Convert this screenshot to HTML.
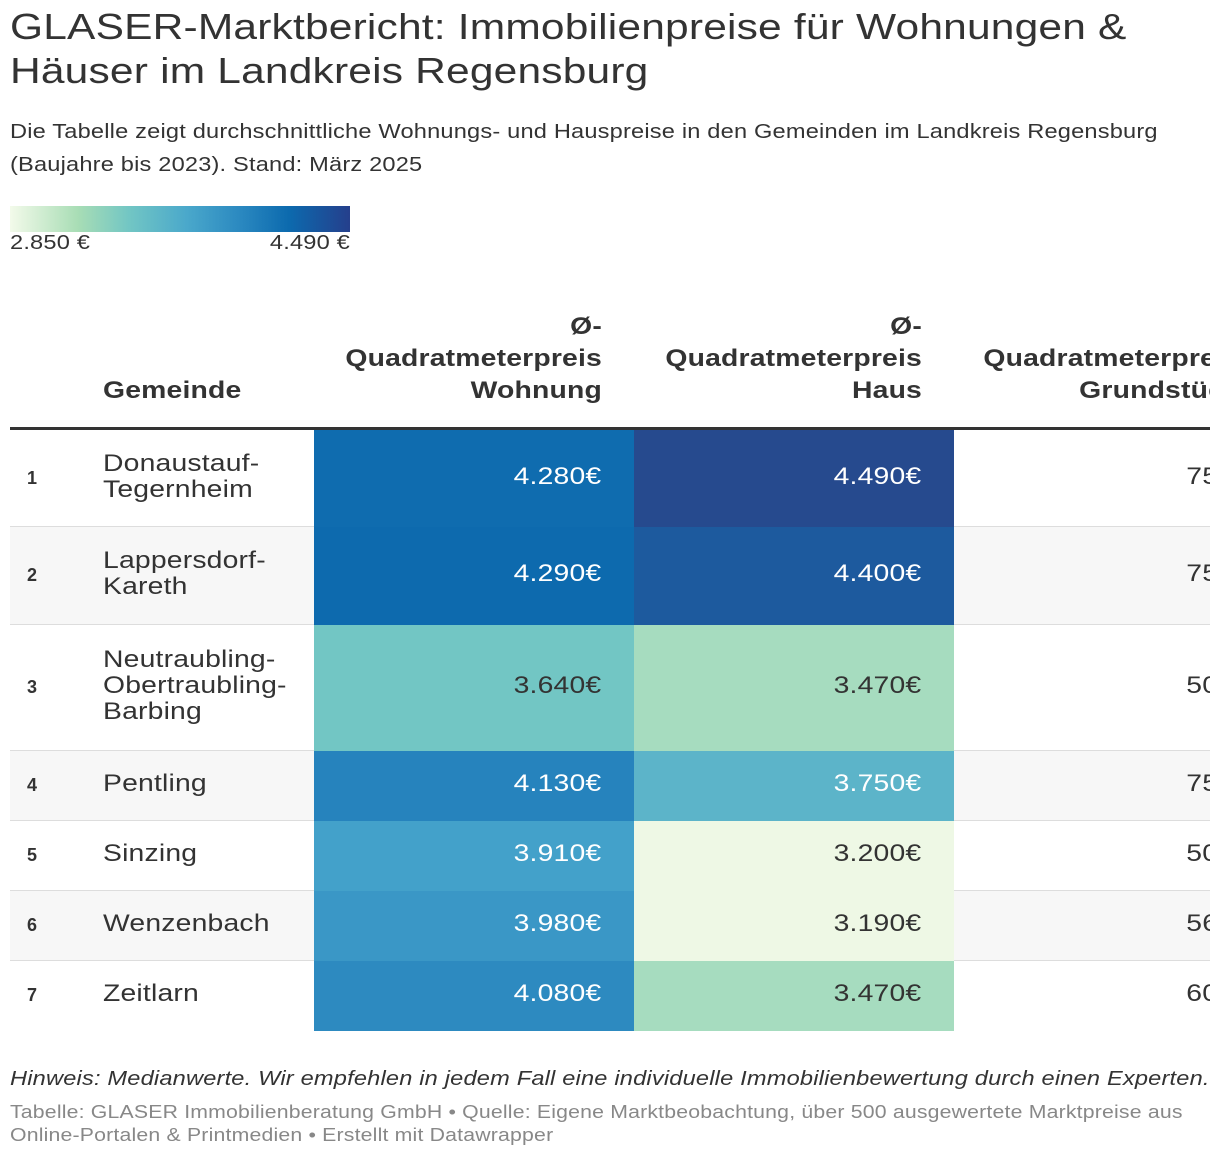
<!DOCTYPE html>
<html><head><meta charset="utf-8">
<style>
*{margin:0;padding:0;box-sizing:border-box}
body{width:1220px;height:1160px;overflow:hidden;background:#fff;font-family:"Liberation Sans",Arial,sans-serif;color:#333;position:relative;letter-spacing:0.01em}
.abs{position:absolute}
.sx{transform:scaleX(1.18);transform-origin:left top}
.sxr{transform:scaleX(1.18);transform-origin:right top}
h1{position:absolute;left:10px;top:5px;font-size:36px;font-weight:400;line-height:44px;color:#333;width:1010px}
.sub{left:10px;top:116px;font-size:20px;line-height:33px;color:#333;width:1000px}
#wrap{position:absolute;left:0;top:290px;width:1210px;height:760px;overflow:hidden}
.hd{position:absolute;font-size:24px;font-weight:700;line-height:32px;color:#333}
.row{position:absolute;left:10px;width:1300px;border-bottom:1px solid #ddd}
.rank{position:absolute;left:17px;font-size:18px;font-weight:700}
.name{position:absolute;left:93px;font-size:24px;line-height:26px}
.cell{position:absolute;top:0;width:320px;text-align:right;padding-right:33px;font-size:24px}
.cell span,.c3 span{display:inline-block;transform:scaleX(1.18);transform-origin:right center}
.c3{position:absolute;top:0;width:300px;left:940px;text-align:right;font-size:24px}
</style></head><body>
<h1 class="sx">GLASER-Marktbericht: Immobilienpreise für Wohnungen &amp; Häuser im Landkreis Regensburg</h1>
<div class="abs sub sx">Die Tabelle zeigt durchschnittliche Wohnungs- und Hauspreise in den Gemeinden im Landkreis Regensburg (Baujahre bis 2023). Stand: März 2025</div>
<div class="abs" style="left:10px;top:206px;width:340px;height:26px;background:linear-gradient(to right,#f3faea 0%,#a8ddb5 20%,#72c6c4 35%,#4aa8cb 52%,#2a88c0 68%,#0c6aae 82%,#253f8c 100%)"></div>
<div class="abs sx" style="left:10px;top:232px;font-size:20px">2.850 €</div>
<div class="abs sxr" style="left:200px;width:150px;text-align:right;top:232px;font-size:20px">4.490 €</div>
<div id="wrap">
  <div class="hd sx" style="left:103px;top:85px">Gemeinde</div>
  <div class="hd sxr" style="left:300px;width:302px;text-align:right;top:21px">Ø-<br>Quadratmeterpreis<br>Wohnung</div>
  <div class="hd sxr" style="left:620px;width:302px;text-align:right;top:21px">Ø-<br>Quadratmeterpreis<br>Haus</div>
  <div class="hd sxr" style="left:940px;width:300px;text-align:right;top:53px;white-space:nowrap">Quadratmeterpreis<br>Grundstück</div>
  <div class="abs" style="left:10px;top:137px;width:1300px;height:3px;background:#333"></div>
  <div id="rows"></div>
</div>
<div class="abs sx" style="left:10px;top:1068px;font-size:20px;font-style:italic;white-space:nowrap">Hinweis: Medianwerte. Wir empfehlen in jedem Fall eine individuelle Immobilienbewertung durch einen Experten.</div>
<div class="abs sx" style="left:10px;top:1101px;font-size:18px;line-height:23px;color:#888;width:1020px">Tabelle: GLASER Immobilienberatung GmbH • Quelle: Eigene Marktbeobachtung, über 500 ausgewertete Marktpreise aus Online-Portalen &amp; Printmedien • Erstellt mit Datawrapper</div>
<script>
const gemeinden=["Donaustauf-<br>Tegernheim","Lappersdorf-<br>Kareth","Neutraubling-<br>Obertraubling-<br>Barbing","Pentling","Sinzing","Wenzenbach","Zeitlarn"];
const wohnung=[4280,4290,3640,4130,3910,3980,4080];
const haus=[4490,4400,3470,3750,3200,3190,3470];
const grund=[750,750,500,750,500,560,600];
const rowHeights=[97,98,126,70,70,70,69];
const stops=[[2850,[247,252,240]],[3200,[238,248,229]],[3470,[166,220,191]],[3640,[114,198,196]],[3750,[92,180,201]],[3910,[67,161,202]],[4130,[38,131,189]],[4290,[13,106,174]],[4400,[29,90,158]],[4490,[38,74,142]]];
function color(v){
  if(v<=stops[0][0])return stops[0][1];
  for(let i=1;i<stops.length;i++){if(v<=stops[i][0]){const a=stops[i-1],b=stops[i],t=(v-a[0])/(b[0]-a[0]);return a[1].map((c,k)=>Math.round(c+(b[1][k]-c)*t));}}
  return stops[stops.length-1][1];
}
function fmt(v){return String(v).replace(/(\d)(\d{3})$/,'$1.$2');}
const rows=document.getElementById('rows');
let y=140;
gemeinden.forEach((g,i)=>{
  const h=rowHeights[i];
  const r=document.createElement('div');
  r.className='row';
  
  
  r.style.top=y+'px';r.style.height=h+'px';
  if(i%2===1)r.style.background='#f7f7f7';
  const lines=g.split('<br>').length;
  const nameTop=(h-lines*26)/2-2;
  const mid=h/2;
  const rk=document.createElement('div');rk.className='rank';rk.textContent=i+1;rk.style.top=(mid-11)+'px';
  
  
  const nm=document.createElement('div');nm.className='name sx';nm.innerHTML=g;nm.style.top=nameTop+'px';
  
  
  r.appendChild(rk);r.appendChild(nm);
  [[wohnung[i],304],[haus[i],624]].forEach(([v,x],k)=>{
    const c=document.createElement('div');c.className='cell';
    
    
    const col=color(v);
    c.style.left=x+'px';c.style.height=(i===gemeinden.length-1?h+1:h)+'px';c.style.background='rgb('+col.join(',')+')';
    c.style.lineHeight=(h-4)+'px';c.style.color=v>=3700?'#fff':'#333';
    const s=document.createElement('span');s.textContent=fmt(v)+'€';
    c.appendChild(s);
    r.appendChild(c);
  });
  const g3=document.createElement('div');g3.className='c3';
  
  
  g3.style.lineHeight=(h-4)+'px';
  const s3=document.createElement('span');s3.textContent=grund[i]+'€';g3.appendChild(s3);
  r.appendChild(g3);
  if(i===gemeinden.length-1)r.style.borderBottom='none';
  rows.appendChild(r);
  y+=h;
});
</script>
</body></html>
